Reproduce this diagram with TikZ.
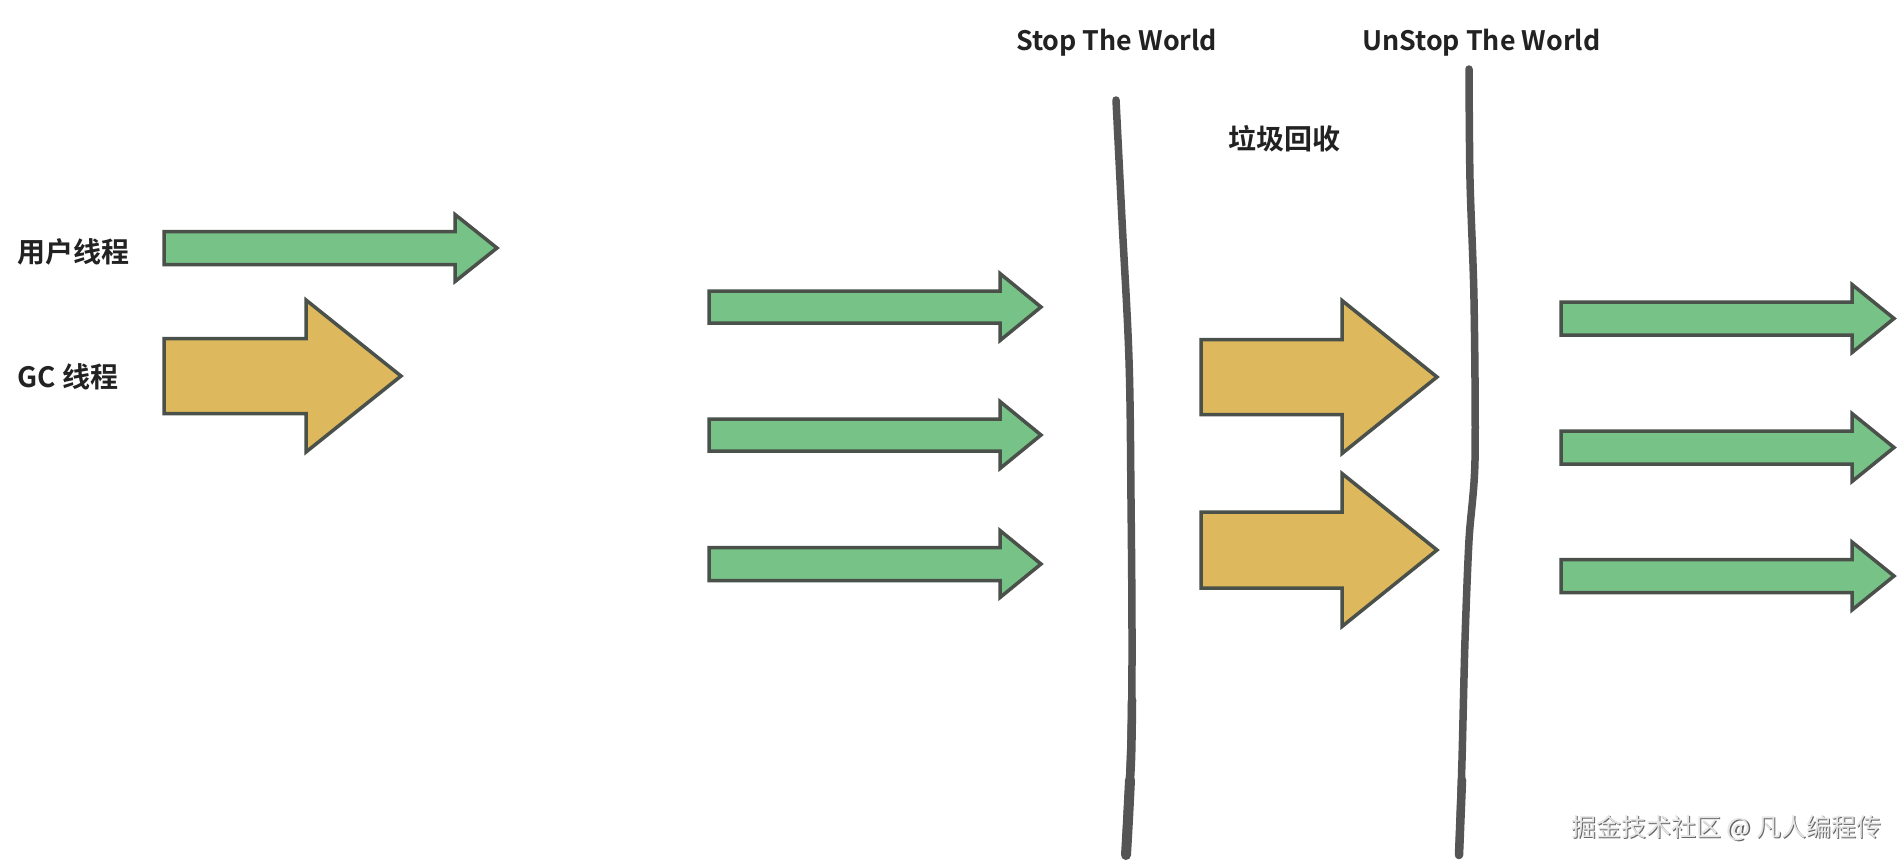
\documentclass[tikz,border=0pt]{standalone}
\usepackage{fontspec}
\newfontfamily\cjk{Noto Sans CJK SC}[BoldFont={Noto Sans CJK SC Bold}]
\definecolor{gfill}{HTML}{77C387}
\definecolor{yfill}{HTML}{DEB85C}
\definecolor{edgec}{HTML}{4A504A}
\definecolor{linec}{HTML}{555555}
\definecolor{txtc}{HTML}{222222}
\tikzset{
  garrow/.style={fill=gfill, draw=edgec, line width=3.5pt, line join=miter},
  yarrow/.style={fill=yfill, draw=edgec, line width=3.5pt, line join=miter},
  lbl/.style={font=\cjk\bfseries\fontsize{28}{30}\selectfont, text=txtc, inner sep=0pt, anchor=west},
  lbllat/.style={lbl, font=\cjk\bfseries\fontsize{26.8}{30}\selectfont},
  wline/.style={draw=linec, line width=7.5pt, line cap=round},
  wmark/.style={font=\cjk\fontsize{25}{27}\selectfont, inner sep=0pt, anchor=west}
}
% style, left x, centre y, shaft half, head base x, head half, tip x
\newcommand\fatarrow[7]{%
  \draw[#1] (#2,#3-#4) -- (#5,#3-#4) -- (#5,#3-#6) -- (#7,#3) -- (#5,#3+#6) -- (#5,#3+#4) -- (#2,#3+#4) -- cycle;}
\begin{document}
\begin{tikzpicture}[x=1pt,y=-1pt]
\fill[white] (0,0) rectangle (1904,865);
\useasboundingbox (0,0) rectangle (1904,865);

% labels
\node[lbl] (user) at (17,252) {用户线程};
\node[lbl] (gc) at (17,377) {GC 线程};
\node[lbllat] (stw) at (1016,43) {Stop The World};
\node[lbllat] (ustw) at (1362,43) {UnStop The World};
\node[lbl] (gcl) at (1228,139) {垃圾回收};

% legend arrows
\fatarrow{garrow}{164}{248}{16.5}{455}{33.5}{497}
\fatarrow{yarrow}{164}{376}{37.5}{306}{76}{401}

% user threads before STW
\fatarrow{garrow}{709}{307}{16}{1000}{33.5}{1041}
\fatarrow{garrow}{709}{435}{16}{1000}{33.5}{1041}
\fatarrow{garrow}{709}{564}{16.5}{1000}{33.5}{1041}

% GC threads
\fatarrow{yarrow}{1201}{377}{37.5}{1342}{76.5}{1437}
\fatarrow{yarrow}{1201}{550}{38}{1342}{76.5}{1437}

% user threads after
\fatarrow{garrow}{1561}{318.5}{16.5}{1852}{34}{1894}
\fatarrow{garrow}{1561}{447.5}{16.5}{1852}{34}{1894}
\fatarrow{garrow}{1561}{576}{16.5}{1852}{34}{1894}

% stop line
\coordinate (s0) at (1116,100);
\coordinate (s1) at (1126,855);
\draw[wline] plot[smooth, tension=0.6] coordinates {(s0) (1122,220) (1129,360) (1131,500) (1132,640) (1131,740) (s1)};
\draw[wline, line width=8.5pt] plot[smooth, tension=0.6] coordinates {(1132,700) (1131,760) (1128,810) (s1)};
\draw[wline, line width=10pt] plot[smooth, tension=0.6] coordinates {(1130,780) (1128,820) (s1)};

% unstop line
\coordinate (u0) at (1469,69);
\coordinate (u1) at (1459,855);
\draw[wline] plot[smooth, tension=0.5] coordinates {(u0) (1470,180) (1474,300) (1475,460) (1469,540) (1465,640) (1462,760) (u1)};
\draw[wline, line width=8.5pt] plot[smooth, tension=0.5] coordinates {(1462,780) (1460,830) (u1)};

% watermark
\node[wmark, text=gray!80!black] (wm0) at (1572.5,829.5) {掘金技术社区 @ 凡人编程传};
\node[wmark, text=gray!20] (wm) at (1571,828) {掘金技术社区 @ 凡人编程传};
\end{tikzpicture}
\end{document}
